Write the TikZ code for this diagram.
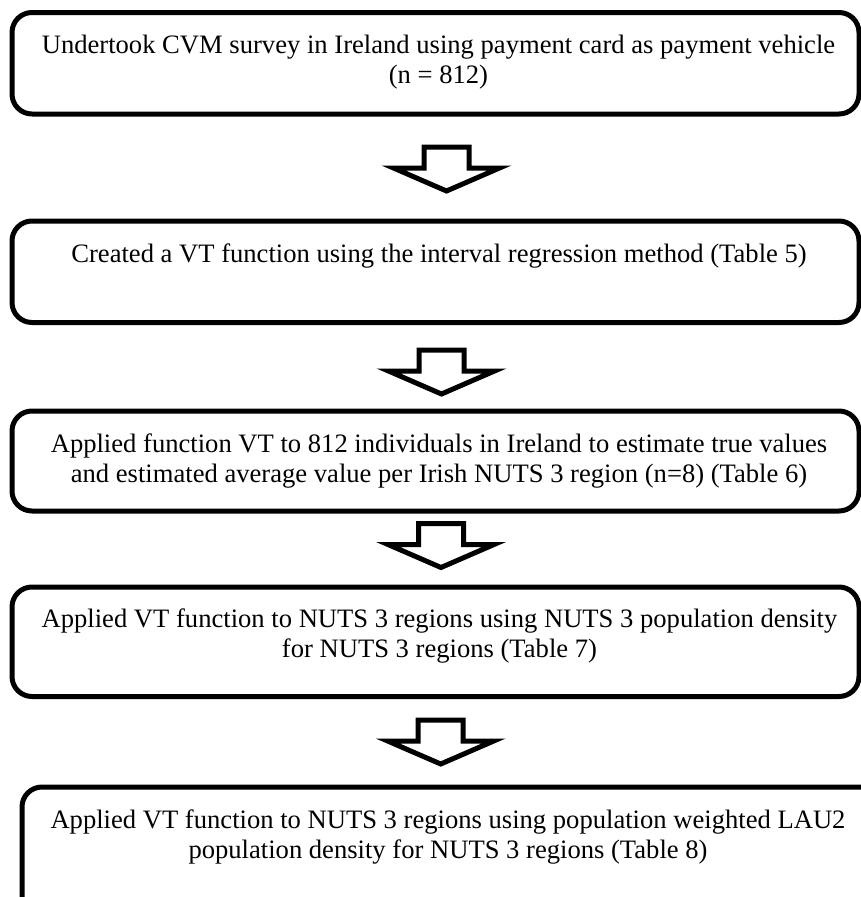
\documentclass[tikz,border=0pt]{standalone}
\usepackage{fontspec}
\setmainfont{Liberation Serif}
\newcommand{\hollowarrow}[1]{\draw[blockarr] (#1) ++(-22.5,0) -- ++(45,0) -- ++(0,21) -- ++(30.5,0) -- ++(-53,23) -- ++(-53,-23) -- ++(30.5,0) -- cycle;}
\begin{document}
\begin{tikzpicture}[x=1pt,y=-1pt,
  stepbox/.style={draw, line width=5pt, rounded corners=20pt, inner sep=0pt},
  steptext/.style={align=center, font=\fontsize{26.6}{30}\selectfont, inner sep=0pt, anchor=base},
  blockarr/.style={draw, line width=5pt, line join=miter, fill=white}]
\useasboundingbox (0,0) rectangle (861,897);
\clip (0,0) rectangle (861,897);
\node[stepbox, minimum width=847pt, minimum height=101.5pt] (b1) at (435.5,63.25) {};
\node[stepbox, minimum width=847pt, minimum height=101.5pt] (b2) at (435.5,271.75) {};
\node[stepbox, minimum width=847pt, minimum height=100pt] (b3) at (435.5,461) {};
\node[stepbox, minimum width=847pt, minimum height=109.5pt] (b4) at (435.5,641.75) {};
\node[stepbox, minimum width=908pt, minimum height=143pt] (b5) at (476,858.5) {};
\node[steptext] (t1) at (438.5,83) {Undertook CVM survey in Ireland using payment card as payment vehicle\\(n = 812)};
\node[steptext] (t2) at (439,262) {Created a VT function using the interval regression method (Table 5)};
\node[steptext] (t3) at (439,482) {Applied function VT to 812 individuals in Ireland to estimate true values\\and estimated average value per Irish NUTS 3 region (n=8) (Table 6)};
\node[steptext] (t4) at (439.5,657) {Applied VT function to NUTS 3 regions using NUTS 3 population density\\for NUTS 3 regions (Table 7)};
\node[steptext] (t5) at (448,858) {Applied VT function to NUTS 3 regions using population weighted LAU2\\population density for NUTS 3 regions (Table 8)};
\coordinate (a1) at (446.5,147);
\coordinate (a2) at (441.5,350);
\coordinate (a3) at (441,523.5);
\coordinate (a4) at (440.7,720);
\hollowarrow{a1}
\hollowarrow{a2}
\hollowarrow{a3}
\hollowarrow{a4}
\end{tikzpicture}
\end{document}
